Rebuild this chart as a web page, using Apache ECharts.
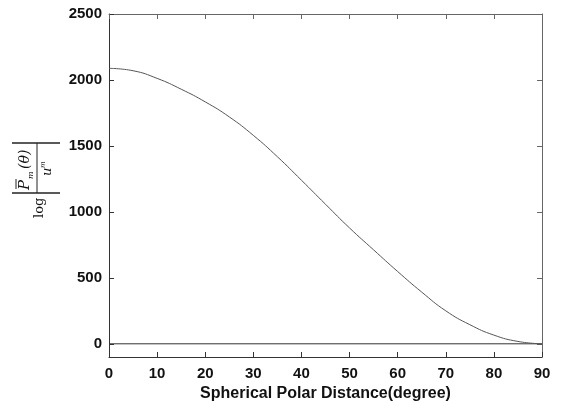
<!DOCTYPE html>
<html>
<head>
<meta charset="utf-8">
<script src="https://cdn.jsdelivr.net/npm/echarts@6/dist/echarts.min.js"></script>
<style>
  html, body { margin: 0; padding: 0; background: #fff; }
  #chart { width: 566px; height: 403px; }
</style>
</head>
<body>
<div id="chart"></div>
<script>
// polar distance (degree) and log|P_m(theta)/u^m|
var degrees = [0, 5, 10, 15, 20, 25, 30, 35, 40, 45, 50, 55, 60, 65, 70, 75, 80, 85, 90];
var values = [2088, 2070, 2012, 1930, 1834, 1720, 1580, 1418, 1240, 1058, 878, 712, 548, 392, 250, 145, 66, 18, 0];
var zeroLine = [[0, 0], [90, 0]];
var yTicks = [0, 500, 1000, 1500, 2000, 2500];
var xTitle = 'Spherical Polar Distance(degree)';

var chart = echarts.init(document.getElementById('chart'));
var axisColor = '#333';
var labelFont = { fontFamily: 'Liberation Sans, Arial', fontWeight: 'bold', fontSize: 15, color: '#111' };
function plain(v) { return String(v); }

var option = {
  animation: false,
  grid: { left: 109, right: 24, top: 14, bottom: 46, outerBoundsMode: 'none', containLabel: false },
  xAxis: [
    {
      type: 'value', min: 0, max: 90, interval: 10,
      position: 'bottom',
      name: xTitle, nameLocation: 'middle', nameGap: 28,
      nameTextStyle: { fontFamily: 'Liberation Sans, Arial', fontWeight: 'bold', fontSize: 16, color: '#111' },
      axisLine: { show: true, onZero: false, lineStyle: { color: axisColor, width: 1 } },
      axisTick: { show: true, inside: true, length: 5, lineStyle: { color: axisColor } },
      axisLabel: Object.assign({ margin: 9, formatter: plain }, labelFont),
      splitLine: { show: false }
    },
    {
      type: 'value', min: 0, max: 90, interval: 10,
      position: 'top',
      axisLine: { show: true, onZero: false, lineStyle: { color: '#666', width: 1 } },
      axisTick: { show: true, inside: true, length: 5, lineStyle: { color: '#666' } },
      axisLabel: { show: false },
      splitLine: { show: false }
    }
  ],
  yAxis: [
    {
      type: 'value', min: -100, max: 2500,
      position: 'left',
      axisLine: { show: true, onZero: false, lineStyle: { color: axisColor, width: 1 } },
      axisTick: { show: true, inside: true, length: 5, customValues: yTicks, lineStyle: { color: axisColor } },
      axisLabel: Object.assign({ margin: 7, customValues: yTicks, formatter: plain }, labelFont),
      splitLine: { show: false }
    },
    {
      type: 'value', min: -100, max: 2500,
      position: 'right',
      axisLine: { show: true, onZero: false, lineStyle: { color: '#666', width: 1 } },
      axisTick: { show: true, inside: true, length: 5, customValues: yTicks, lineStyle: { color: '#666' } },
      axisLabel: { show: false },
      splitLine: { show: false }
    }
  ],
  series: [
    {
      name: 'zero',
      type: 'line',
      data: zeroLine,
      symbol: 'none',
      lineStyle: { color: '#333', width: 1 },
      silent: true
    },
    {
      name: 'curve',
      type: 'line',
      data: degrees.map(function (d, i) { return [d, values[i]]; }),
      smooth: 0.5,
      symbol: 'none',
      lineStyle: { color: '#555', width: 1 }
    }
  ],
  graphic: [
    {
      type: 'group',
      x: 37, y: 218,
      rotation: Math.PI / 2,
      children: [
        { type: 'text', x: 0, y: 3, style: { text: 'log', fontFamily: 'DejaVu Serif', fontSize: 13, fill: '#111', verticalAlign: 'middle', align: 'left' } },
        { type: 'line', shape: { x1: 25, y1: -25, x2: 25, y2: 23 }, style: { stroke: '#222', lineWidth: 1.5 } },
        { type: 'line', shape: { x1: 75, y1: -25, x2: 75, y2: 23 }, style: { stroke: '#222', lineWidth: 1.5 } },
        { type: 'line', shape: { x1: 25, y1: 0, x2: 75, y2: 0 }, style: { stroke: '#222', lineWidth: 1 } },
        { type: 'text', x: 28, y: -12, style: { text: 'P', fontFamily: 'DejaVu Serif', fontStyle: 'italic', fontSize: 15, fill: '#111', verticalAlign: 'middle' } },
        { type: 'line', shape: { x1: 29, y1: -21, x2: 39, y2: -21 }, style: { stroke: '#222', lineWidth: 1 } },
        { type: 'text', x: 39, y: -6, style: { text: 'm', fontFamily: 'DejaVu Serif', fontStyle: 'italic', fontSize: 8, fill: '#111', verticalAlign: 'middle' } },
        { type: 'text', x: 49, y: -12, style: { text: '(θ)', fontFamily: 'DejaVu Serif', fontStyle: 'italic', fontSize: 14, fill: '#111', verticalAlign: 'middle' } },
        { type: 'text', x: 42, y: 11, style: { text: 'u', fontFamily: 'DejaVu Serif', fontStyle: 'italic', fontSize: 13, fill: '#111', verticalAlign: 'middle' } },
        { type: 'text', x: 50, y: 6, style: { text: 'm', fontFamily: 'DejaVu Serif', fontStyle: 'italic', fontSize: 7, fill: '#111', verticalAlign: 'middle' } }
      ]
    }
  ]
};
chart.setOption(option);
</script>
</body>
</html>
